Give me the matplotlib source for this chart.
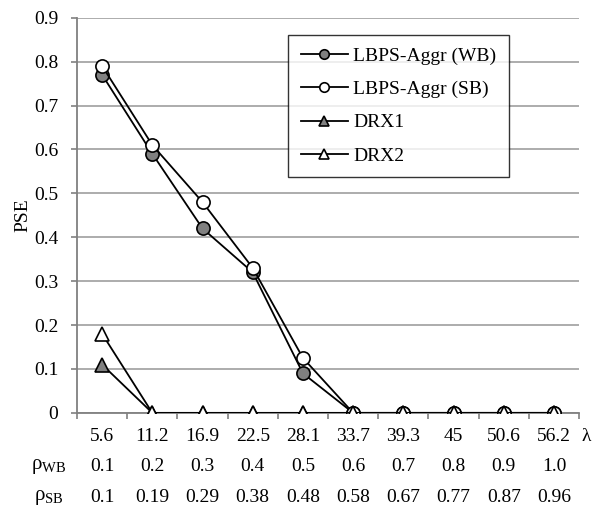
import matplotlib
matplotlib.use("Agg")
import matplotlib.pyplot as plt
import matplotlib.transforms as mtransforms

plt.rcParams["font.family"] = ["Liberation Serif", "DejaVu Serif"]
plt.rcParams["mathtext.fontset"] = "custom"
plt.rcParams["mathtext.rm"] = "Liberation Serif"
plt.rcParams["mathtext.it"] = "Liberation Serif"

lam = ["5.6", "11.2", "16.9", "22.5", "28.1", "33.7", "39.3", "45", "50.6", "56.2"]
rho_wb = ["0.1", "0.2", "0.3", "0.4", "0.5", "0.6", "0.7", "0.8", "0.9", "1.0"]
rho_sb = ["0.1", "0.19", "0.29", "0.38", "0.48", "0.58", "0.67", "0.77", "0.87", "0.96"]

lbps_wb = [0.77, 0.59, 0.42, 0.32, 0.09, 0, 0, 0, 0, 0]
lbps_sb = [0.79, 0.61, 0.48, 0.33, 0.125, 0, 0, 0, 0, 0]
drx1 = [0.11, 0, 0, 0, 0, 0, 0, 0, 0, 0]
drx2 = [0.18, 0, 0, 0, 0, 0, 0, 0, 0, 0]

fs = 14
grey = "#808080"
x = list(range(len(lam)))

fig = plt.figure(figsize=(5.97, 5.20), dpi=100)
ax = fig.add_axes([0.129, 0.206, 0.841, 0.76])

ax.plot(x, lbps_wb, "k-", lw=1.3, marker="o", ms=9.5, mfc=grey, mec="k", mew=1.2, label="LBPS-Aggr (WB)", zorder=3)
ax.plot(x, lbps_sb, "k-", lw=1.3, marker="o", ms=9.5, mfc="white", mec="k", mew=1.2, label="LBPS-Aggr (SB)", zorder=4)
ax.plot(x, drx1, "k-", lw=1.3, marker="^", ms=10, mfc=grey, mec="k", mew=1.2, label="DRX1", zorder=3)
ax.plot(x, drx2, "k-", lw=1.3, marker="^", ms=10, mfc="white", mec="k", mew=1.2, label="DRX2", zorder=4)

ax.set_xlim(-0.5, len(lam) - 0.5)
ax.set_ylim(0, 0.9)
ax.set_yticks([i / 10 for i in range(10)])
ax.set_yticklabels(["0"] + ["%.1f" % (i / 10) for i in range(1, 10)], fontsize=fs)
ax.set_xticks([])
ax.set_xticks([i - 0.5 for i in range(len(lam) + 1)], minor=True)
ax.tick_params(axis="x", which="minor", length=4.5, color=grey, width=1.2, labelbottom=False)
ax.tick_params(axis="y", length=4.5, color=grey, width=1.2, pad=9)
ax.grid(axis="y", color="#a6a6a6", lw=1.3)
ax.set_axisbelow(True)
for s in ["top", "right"]:
    ax.spines[s].set_visible(False)
for s in ["left", "bottom"]:
    ax.spines[s].set_color(grey)
    ax.spines[s].set_linewidth(1.3)
ax.set_ylabel("PSE", fontsize=fs, labelpad=2)

# table of parameters under the axis
tr = mtransforms.blended_transform_factory(ax.transData, fig.transFigure)
rows = [(lam, 0.160, None), (rho_wb, 0.102, r"$\rho_{\mathrm{WB}}$"), (rho_sb, 0.044, r"$\rho_{\mathrm{SB}}$")]
for vals, yy, name in rows:
    for i, v in enumerate(vals):
        ax.text(i, yy, v, transform=tr, ha="center", va="center", fontsize=fs)
    if name:
        fig.text(0.082, yy, name, ha="center", va="center", fontsize=fs + 1)
fig.text(0.982, 0.160, "λ", ha="center", va="center", fontsize=fs)

leg = ax.legend(loc="upper left", bbox_to_anchor=(0.42, 0.957), borderaxespad=0, fontsize=fs, frameon=True,
                fancybox=False, handlelength=2.45, labelspacing=0.8, borderpad=0.65, handletextpad=0.26,
                markerscale=0.72)
leg.get_frame().set_edgecolor("k")
leg.get_frame().set_linewidth(1.0)

fig.savefig("out.png", dpi=100)
